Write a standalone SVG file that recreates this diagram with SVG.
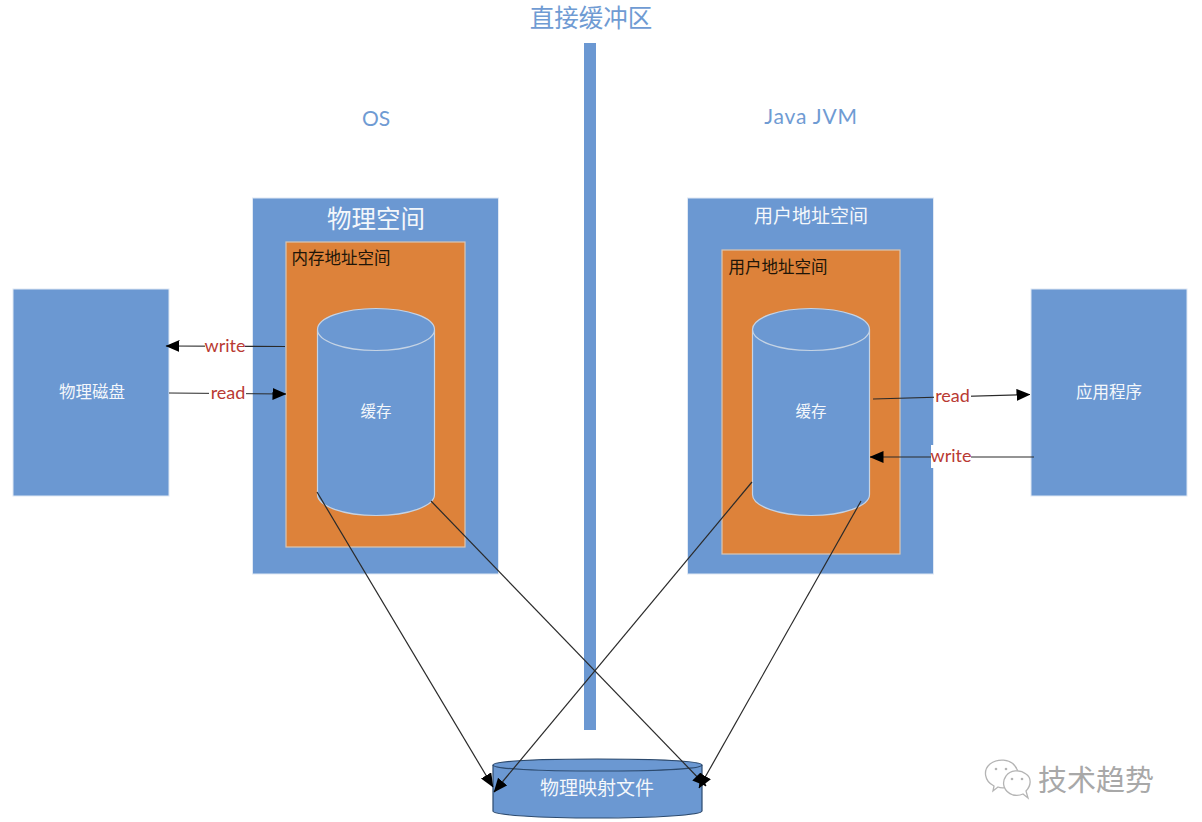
<svg xmlns="http://www.w3.org/2000/svg" width="1202" height="822" viewBox="0 0 1202 822">
<style>
text{font-family:"Liberation Sans","Noto Sans CJK SC",sans-serif;text-anchor:middle}
.box{fill:#6b98d2;stroke:#dfe8f4;stroke-width:1}
.inner{fill:#dd823a;stroke:#d9c6b4;stroke-width:1.2}
.cyl{fill:#6b98d2;stroke:#c5d3e4;stroke-width:1.2}
.w{fill:#f4f7fb}
.hd{fill:#6f9bd3}
.lat{font-family:Lato,"Liberation Sans",sans-serif}
.lbl{fill:#b93a33;font-size:18px;font-family:Lato,"Liberation Sans",sans-serif}
.blk{fill:#201508;font-size:16.500px}
.con{stroke:#2a2a2a;stroke-width:1.2;fill:none}
.wm{fill:#fff;stroke:#b4b4b4;stroke-width:1.3}
</style>
<defs>
<marker id="arr" viewBox="0 0 14 12" refX="13.500" refY="6" markerWidth="14" markerHeight="12" markerUnits="userSpaceOnUse" orient="auto"><path d="M0 0L14 6L0 12Z" fill="#000"/></marker>
</defs>
<rect width="1202" height="822" fill="#fff"/>
<text x="591" y="27" class="hd" font-size="24.500">直接缓冲区</text>
<text x="376" y="126" class="hd lat" font-size="21">OS</text>
<text x="811" y="124" class="hd lat" font-size="21" letter-spacing="0.800">Java JVM</text>
<rect id="divider" x="584" y="43" width="12" height="687" fill="#6b98d2"/>
<g id="disk"><rect class="box" x="13" y="289" width="156" height="207"/><text x="92" y="398" class="w" font-size="16.500">物理磁盘</text></g>
<g id="os"><rect class="box" x="252.500" y="198" width="246" height="376"/><text x="376" y="228" class="w" font-size="24.500">物理空间</text></g>
<g id="os-mem"><rect class="inner" x="286" y="242" width="179" height="305"/><text x="341" y="264" class="blk">内存地址空间</text></g>
<g id="os-cache"><path class="cyl" d="M317.500 329.500V494.500C317.500 506 343.500 515.500 376 515.500S434.500 506 434.500 494.500V329.500C434.500 318 408.500 308.500 376 308.500S317.500 318 317.500 329.500C317.500 341 343.500 350.500 376 350.500S434.500 341 434.500 329.500"/><text x="376" y="417" class="w" font-size="15.500">缓存</text></g>
<g id="jvm"><rect class="box" x="687.500" y="198" width="246" height="376"/><text x="811" y="223" class="w" font-size="19">用户地址空间</text></g>
<g id="jvm-mem"><rect class="inner" x="722" y="250" width="178" height="304"/><text x="778" y="273" class="blk">用户地址空间</text></g>
<g id="jvm-cache"><path class="cyl" d="M752.500 329.500V494.500C752.500 506 778.500 515.500 811 515.500S869.500 506 869.500 494.500V329.500C869.500 318 843.500 308.500 811 308.500S752.500 318 752.500 329.500C752.500 341 778.500 350.500 811 350.500S869.500 341 869.500 329.500"/><text x="811" y="417" class="w" font-size="15.500">缓存</text></g>
<g id="app"><rect class="box" x="1031" y="289" width="156" height="207"/><text x="1109" y="398" class="w" font-size="16.500">应用程序</text></g>
<g id="file"><path d="M493 765C493 761 540 759 597 759S702 761 702 765V811C702 815 655 818 597 818S493 815 493 811Z" fill="#6b98d2" stroke="#2c4a6e" stroke-width="1.200"/><path d="M493 765C493 769 540 771 597 771S702 769 702 765" fill="none" stroke="#2c4a6e" stroke-width="1.200"/><text x="597" y="795" class="w" font-size="19">物理映射文件</text></g>
<g id="connectors">
<line class="con" x1="285" y1="346.500" x2="166" y2="346" marker-end="url(#arr)"/>
<line class="con" x1="169" y1="393" x2="286" y2="394" marker-end="url(#arr)"/>
<line class="con" x1="873" y1="399" x2="1030" y2="394.500" marker-end="url(#arr)"/>
<line class="con" x1="1034" y1="457" x2="870" y2="457" marker-end="url(#arr)"/>
<line class="con" x1="317" y1="492" x2="493" y2="787" marker-end="url(#arr)"/>
<line class="con" x1="431" y1="501" x2="706" y2="786" marker-end="url(#arr)"/>
<line class="con" x1="752" y1="482" x2="494" y2="792" marker-end="url(#arr)"/>
<line class="con" x1="861" y1="501" x2="699" y2="788" marker-end="url(#arr)"/>
</g>
<g id="labels">
<rect x="205" y="336" width="40" height="19" fill="#fff"/><text x="225" y="352" class="lbl">write</text>
<rect x="209" y="384" width="37" height="19" fill="#fff"/><text x="228" y="399" class="lbl">read</text>
<rect x="934" y="387" width="37" height="19" fill="#fff"/><text x="952.500" y="402" class="lbl">read</text>
<rect x="931" y="445" width="40" height="23" fill="#fff"/><text x="951" y="462" class="lbl">write</text>
</g>
<g id="watermark">
<path class="wm" d="M994 786C984 781 983 770 990 764C998 758 1010 759 1015 766C1020 772 1019 780 1012 785C1006 789 1000 788 998 787L993 791Z"/>
<path class="wm" d="M1026 791C1031 786 1032 778 1026 774C1020 769 1010 770 1006 776C1001 783 1004 792 1013 795C1018 796 1021 795 1023 794L1028 798Z"/>
<g fill="#b4b4b4"><circle cx="996" cy="769" r="1.300"/><circle cx="1006" cy="769" r="1.300"/><circle cx="1012" cy="779" r="1.300"/><circle cx="1022" cy="779" r="1.300"/></g>
<text x="1096" y="791" font-size="29" fill="#a8a8a8">技术趋势</text>
</g>
</svg>
